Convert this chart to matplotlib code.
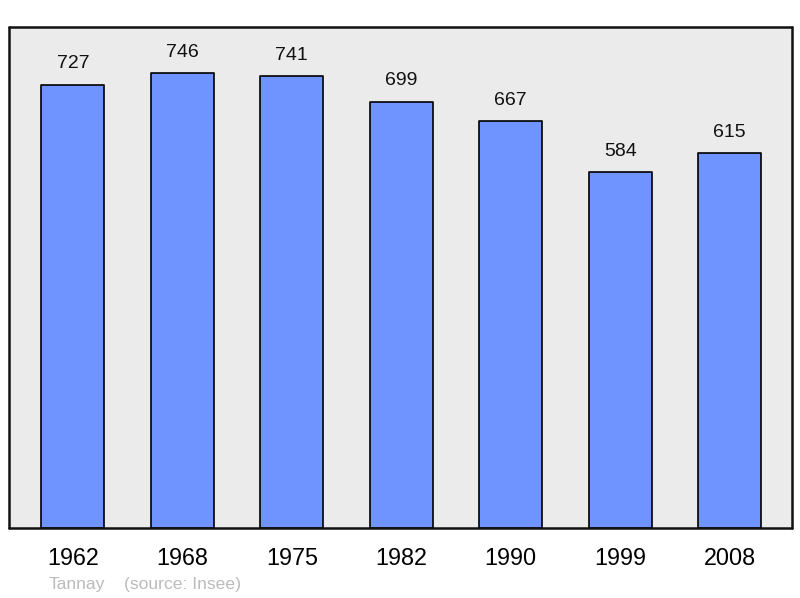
import matplotlib.pyplot as plt

plt.rcParams["font.family"] = ["Liberation Sans", "DejaVu Sans"]

years = ["1962", "1968", "1975", "1982", "1990", "1999", "2008"]
population = [727, 746, 741, 699, 667, 584, 615]
town = "Tannay"
source = "(source: Insee)"

fig = plt.figure(figsize=(8, 5.98), dpi=100)
ax = fig.add_axes([9 / 800, 1 - 528 / 598, 783 / 800, 501 / 598])
ax.set_facecolor("#ebebeb")

x = list(range(len(years)))
bars = ax.bar(x, population, width=0.575, color="#7094ff", edgecolor="black", linewidth=1.2)
for b in bars:
    b.set_joinstyle("round")

for xi, v in zip(x, population):
    ax.annotate(str(v), (xi, v), xytext=(0, 9), textcoords="offset points",
                ha="center", va="bottom", fontsize=14, color="#111111")

ax.set_xlim(-0.584, 6.57)
ax.set_ylim(0, 822)
ax.set_xticks(x)
ax.set_xticklabels(years, fontsize=16.8)
ax.tick_params(axis="x", length=0, pad=14)
ax.set_yticks([])
for s in ax.spines.values():
    s.set_linewidth(1.8)
    s.set_color("#111111")
    s.set_capstyle("round")

fig.text(49 / 800, 1 - 584 / 598, town, fontsize=12.6, color="#bbbbbb", va="center")
fig.text(124 / 800, 1 - 584 / 598, source, fontsize=12.6, color="#bbbbbb", va="center")

fig.savefig("out.png", dpi=100)
